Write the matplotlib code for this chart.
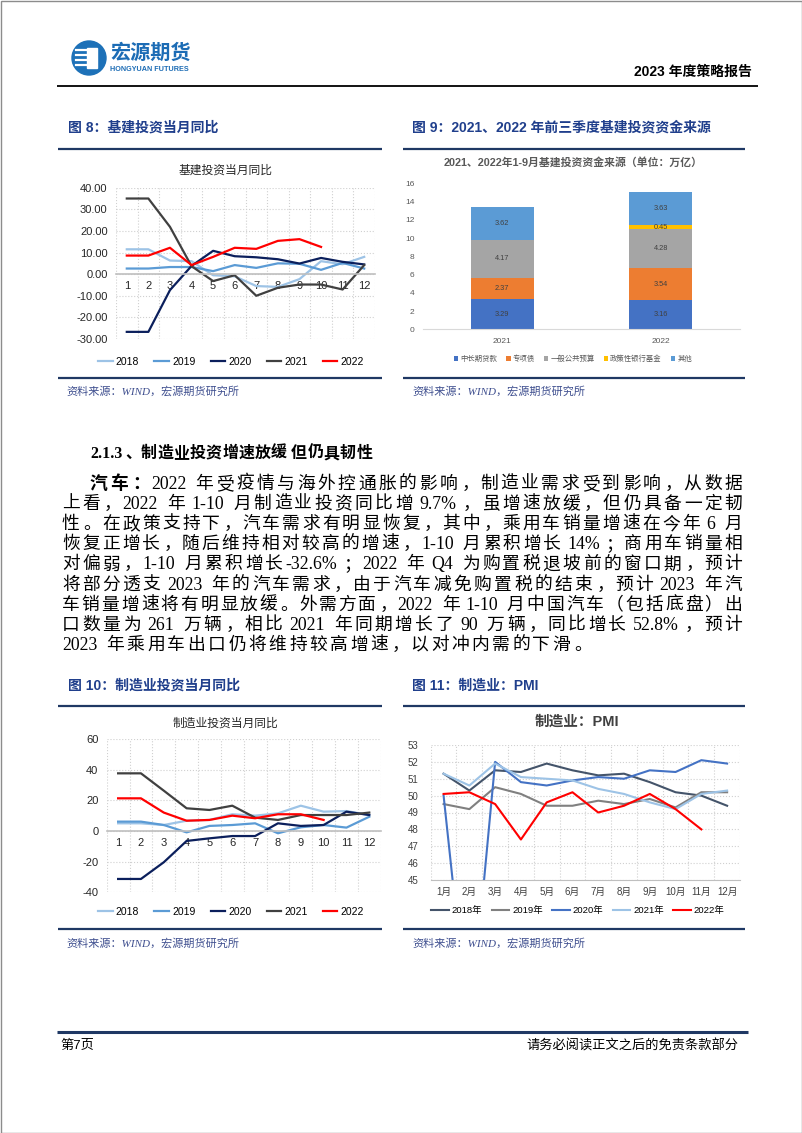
import re
import numpy as np
import matplotlib.pyplot as plt
from matplotlib.patches import Circle, Rectangle
from matplotlib.ticker import FormatStrFormatter

plt.rcParams['font.family'] = ['Liberation Sans', 'Noto Sans CJK SC']
CJK = ['Liberation Sans', 'Noto Sans CJK SC']
BODY = ['Liberation Serif', 'Noto Sans CJK SC']

# ---- data ----
months = np.arange(1, 13)
years = ['2018', '2019', '2020', '2021', '2022']

# fig 8: infrastructure investment, monthly yoy
infra_2018 = [11.5, 11.5, 6.3, 6.0, -0.5, -1.0, -5.5, -5.9, -2.3, 6.0, 4.6, 8.0]
infra_2019 = [2.6, 2.6, 3.3, 3.3, 1.4, 4.2, 2.9, 5.0, 4.8, 2.0, 5.2, 2.6]
infra_2020 = [-26.7, -26.7, -7.4, 3.8, 10.8, 8.3, 7.8, 6.9, 4.9, 7.5, 5.7, 4.5]
infra_2021 = [35.0, 35.0, 21.9, 3.7, -3.2, -0.5, -10.0, -6.3, -4.8, -4.8, -7.1, 4.2]
infra_2022 = [8.6, 8.6, 12.2, 4.2, 8.0, 12.2, 11.7, 15.4, 16.2, 12.6]

# fig 9: funding sources (trillion yuan)
src_years = ['2021', '2022']
src_names = ['中长期贷款', '专项债', '一般公共预算', '政策性银行基金', '其他']
loans = [3.29, 3.16]
special_bonds = [2.37, 3.54]
budget = [4.17, 4.28]
policy_fund = [0.0, 0.45]
others = [3.62, 3.63]

# fig 10: manufacturing investment, monthly yoy
manu_2018 = [5.0, 5.0, 3.9, 6.7, 7.2, 10.9, 10.0, 11.5, 16.5, 12.6, 13.0, 10.4]
manu_2019 = [6.1, 6.1, 3.9, -0.9, 3.3, 3.9, 5.0, -1.5, 2.4, 3.9, 2.2, 9.3]
manu_2020 = [-31.3, -31.3, -20.4, -6.5, -4.8, -3.3, -3.3, 5.0, 3.3, 3.9, 12.6, 10.4]
manu_2021 = [37.6, 37.6, 26.3, 14.8, 13.7, 16.5, 8.7, 7.2, 10.4, 10.4, 10.4, 12.0]
manu_2022 = [21.3, 21.3, 12.0, 6.7, 7.2, 10.0, 8.3, 10.9, 10.9, 7.2]

# fig 11: manufacturing PMI
pmi_2018 = [51.3, 50.3, 51.5, 51.4, 51.9, 51.5, 51.2, 51.3, 50.8, 50.2, 50.0, 49.4]
pmi_2019 = [49.5, 49.2, 50.5, 50.1, 49.4, 49.4, 49.7, 49.5, 49.8, 49.3, 50.2, 50.2]
pmi_2020 = [50.0, 35.7, 52.0, 50.8, 50.6, 50.9, 51.1, 51.0, 51.5, 51.4, 52.1, 51.9]
pmi_2021 = [51.3, 50.6, 51.9, 51.1, 51.0, 50.9, 50.4, 50.1, 49.6, 49.2, 50.1, 50.3]
pmi_2022 = [50.1, 50.2, 49.5, 47.4, 49.6, 50.2, 49.0, 49.4, 50.1, 49.2, 48.0]

body_lines = [
    '汽车：2022 年受疫情与海外控通胀的影响，制造业需求受到影响，从数据',
    '上看，2022 年 1-10 月制造业投资同比增 9.7%，虽增速放缓，但仍具备一定韧',
    '性。在政策支持下，汽车需求有明显恢复，其中，乘用车销量增速在今年 6 月',
    '恢复正增长，随后维持相对较高的增速，1-10 月累积增长 14%；商用车销量相',
    '对偏弱，1-10 月累积增长-32.6%；2022 年 Q4 为购置税退坡前的窗口期，预计',
    '将部分透支 2023 年的汽车需求，由于汽车减免购置税的结束，预计 2023 年汽',
    '车销量增速将有明显放缓。外需方面，2022 年 1-10 月中国汽车（包括底盘）出',
    '口数量为 261 万辆，相比 2021 年同期增长了 90 万辆，同比增长 52.8%，预计',
    '2023 年乘用车出口仍将维持较高增速，以对冲内需的下滑。',
]

W, H = 802, 1133
fig = plt.figure(figsize=(W / 100, H / 100), dpi=100)
page = fig.add_axes([0, 0, 1, 1])
page.set_xlim(0, W)
page.set_ylim(H, 0)
page.axis('off')
rend = fig.canvas.get_renderer()


def px_axes(l, t, r, b):
    return fig.add_axes([l / W, 1 - b / H, (r - l) / W, (b - t) / H])


def hline(x0, x1, y, color='#1F3864', lw=1.6):
    page.plot([x0, x1], [y, y], color=color, lw=lw, solid_capstyle='butt')


def body_line(s, x0, x1, y, size, bold_n=0, gap=None):
    em = size * 100 / 72
    items = []
    for sp, tok in re.findall(r'( ?)([A-Za-z0-9.%\-]+|\S)', s):
        wt = 'bold' if len(items) < bold_n else 'light'
        t = page.text(0, y + 0.38 * em, tok, fontsize=size, family=BODY,
                      fontweight=wt, ha='left', va='baseline', color='black')
        if tok.isascii():
            w = t.get_window_extent(rend).width + 0.12 * em
        else:
            w = em
        items.append((t, w, 0.25 * em if sp else 0))
    if gap is None:
        gap = (x1 - x0 - sum(w + sp for _, w, sp in items)) / (len(items) - 1)
    x = x0
    for t, w, sp in items:
        x += sp
        t.set_x(x + (0.08 * em if t.get_text() in '，；：。、' else 0))
        x += w + gap
    return gap


# ---- page frame, header, footer ----
page.add_patch(Rectangle((0.5, 0.5), W - 1, H - 1, fill=False, ec='#8C8C8C', lw=1))
page.add_patch(Circle((89, 58), 17, color='#1D71B8'))
for yy in [50, 55, 60, 65]:
    page.plot([76, 86], [yy, yy], color='white', lw=1.6)
page.add_patch(Rectangle((87, 48), 10, 20, color='white'))
page.text(110, 53, '宏源期货', fontsize=14.5, fontweight='bold', color='#1C6CB5',
          family=CJK, va='center', ha='left')
page.text(110, 69.5, 'HONGYUAN FUTURES', fontsize=5.2, fontweight='bold', color='#1C6CB5',
          va='center', ha='left')
page.text(752, 72, '2023 年度策略报告', fontsize=10, fontweight='bold', ha='right',
          va='center', family=CJK)
hline(57, 758, 86, color='black', lw=1.3)

hline(57, 748, 1032, lw=2.2)
page.text(60, 1046, '第7页', fontsize=9.5, ha='left', va='center', family=CJK)
page.text(738, 1046, '请务必阅读正文之后的免责条款部分', fontsize=9.5, ha='right',
          va='center', family=CJK)

# captions, rules and sources
cap = dict(fontsize=10, fontweight='bold', color='#203F8C', family=CJK, va='center', ha='left')
src = dict(fontsize=8, color='#3F4F8F', family=BODY, style='italic', va='center', ha='left')
page.text(68, 128, '图 8：基建投资当月同比', **cap)
page.text(412, 128, '图 9：2021、2022 年前三季度基建投资资金来源', **cap)
page.text(68, 686, '图 10：制造业投资当月同比', **cap)
page.text(412, 686, '图 11：制造业：PMI', **cap)
for y in [149, 378, 706, 929]:
    hline(58, 382, y)
    hline(403, 745, y)
for x, y in [(66, 391), (412, 391), (66, 943), (412, 943)]:
    page.text(x, y, '资料来源：WIND，宏源期货研究所', **src)

# ---- body text ----
body_line('2.1.3、制造业投资增速放缓 但仍具韧性', 90, 0, 452, 11.5, bold_n=99, gap=0.3)
g = 0
for i, s in enumerate(body_lines):
    y = 482 + i * 20.15
    if i == 0:
        g = body_line(s, 90, 742, y, 12.8, bold_n=3)
    elif i < len(body_lines) - 1:
        g = body_line(s, 62, 742, y, 12.8)
    else:
        body_line(s, 62, 742, y, 12.8, gap=g)

line_colors = ['#9DC3E6', '#5B9BD5', '#0B1F5C', '#404040', '#FF0000']


def yoy_chart(ax, series, ylim, step, fmt):
    for vals, c, lab in zip(series, line_colors, years):
        ax.plot(months[:len(vals)], vals, color=c, lw=1.6, label=lab)
    ax.set_xlim(0.5, 12.5)
    ax.set_ylim(*ylim)
    ax.set_yticks(np.arange(ylim[0], ylim[1] + 1, step))
    ax.yaxis.set_major_formatter(FormatStrFormatter(fmt))
    ax.set_xticks(months)
    ax.set_xticks(np.arange(0.5, 13, 1), minor=True)
    ax.grid(which='minor', axis='x', ls=':', color='#D0D0D0', lw=0.8)
    ax.grid(which='major', axis='y', ls=':', color='#D0D0D0', lw=0.8)
    for s in ['top', 'right', 'left']:
        ax.spines[s].set_visible(False)
    ax.spines['bottom'].set_position(('data', 0))
    ax.spines['bottom'].set_color('#BFBFBF')
    ax.spines['bottom'].set_linewidth(1.2)
    ax.tick_params(which='both', length=0, labelsize=8, colors='#262626')
    ax.tick_params(axis='x', pad=5)
    ax.tick_params(axis='y', pad=6)


# ---- fig 8 ----
ax8 = px_axes(116, 187.7, 375, 339)
yoy_chart(ax8, [infra_2018, infra_2019, infra_2020, infra_2021, infra_2022], (-30, 40), 10, '%.2f')
page.text(225.7, 170.5, '基建投资当月同比', fontsize=8.5, ha='center', va='center',
          color='#262626', family=CJK)
ax8.legend(loc='center', bbox_to_anchor=(231 / W, 1 - 362 / H), bbox_transform=fig.transFigure,
           ncol=5, frameon=False, fontsize=7.5, handlelength=1.4, handletextpad=0.3,
           columnspacing=1.45)

# ---- fig 10 ----
ax10 = px_axes(106.7, 739, 380.7, 892.3)
yoy_chart(ax10, [manu_2018, manu_2019, manu_2020, manu_2021, manu_2022], (-40, 60), 20, '%d')
page.text(225.7, 724, '制造业投资当月同比', fontsize=8.5, ha='center', va='center',
          color='#262626', family=CJK)
ax10.legend(loc='center', bbox_to_anchor=(231 / W, 1 - 912 / H), bbox_transform=fig.transFigure,
            ncol=5, frameon=False, fontsize=7.5, handlelength=1.4, handletextpad=0.3,
            columnspacing=1.45)

# ---- fig 9 ----
ax9 = px_axes(423, 183.3, 740, 329.3)
bar_colors = ['#4472C4', '#ED7D31', '#A5A5A5', '#FFC000', '#5B9BD5']
bottom = np.zeros(2)
for vals, c, lab in zip([loans, special_bonds, budget, policy_fund, others], bar_colors, src_names):
    bars = ax9.bar(src_years, vals, width=0.395, bottom=bottom, color=c, label=lab)
    for b, v in zip(bars, vals):
        if v > 0:
            ax9.text(b.get_x() + b.get_width() / 2, b.get_y() + v / 2, f'{v:.2f}',
                     ha='center', va='center', fontsize=5.3, color='#404040')
    bottom += np.array(vals)
ax9.set_xlim(-0.5, 1.5)
ax9.set_ylim(0, 16)
ax9.set_yticks(range(0, 17, 2))
for s in ['top', 'right', 'left']:
    ax9.spines[s].set_visible(False)
ax9.spines['bottom'].set_color('#D9D9D9')
ax9.tick_params(length=0, labelsize=6, colors='#595959')
ax9.tick_params(axis='y', pad=6)
ax9.tick_params(axis='x', pad=6)
page.text(573, 162.5, '2021、2022年1-9月基建投资资金来源（单位：万亿）', fontsize=7.8,
          fontweight='bold', color='#595959', ha='center', va='center', family=CJK)
ax9.legend(loc='center', bbox_to_anchor=(573 / W, 1 - 359.5 / H), bbox_transform=fig.transFigure,
           ncol=5, frameon=False, fontsize=5.3, handlelength=0.6, handleheight=0.6,
           handletextpad=0.3, columnspacing=1.2, labelcolor='#595959')

# ---- fig 11 ----
ax11 = px_axes(430.7, 745, 740, 880)
pmi_colors = ['#44546A', '#808080', '#4472C4', '#9DC3E6', '#FF0000']
for vals, c, lab in zip([pmi_2018, pmi_2019, pmi_2020, pmi_2021, pmi_2022], pmi_colors, years):
    ax11.plot(months[:len(vals)], vals, color=c, lw=1.5, label=lab + '年')
ax11.set_xlim(0.5, 12.5)
ax11.set_ylim(45, 53)
ax11.set_yticks(range(45, 54))
ax11.set_xticks(months, [f'{m}月' for m in months])
ax11.set_xticks(np.arange(0.5, 13, 1), minor=True)
ax11.grid(which='minor', axis='x', ls=':', color='#D0D0D0', lw=0.8)
ax11.grid(which='major', axis='y', ls=':', color='#D0D0D0', lw=0.8)
for s in ['top', 'right', 'left']:
    ax11.spines[s].set_visible(False)
ax11.spines['bottom'].set_color('#BFBFBF')
ax11.tick_params(which='both', length=0, labelsize=7, colors='#404040')
ax11.tick_params(axis='y', pad=9)
ax11.tick_params(axis='x', pad=5)
page.text(576.7, 722, '制造业：PMI', fontsize=10.5, fontweight='bold', color='#404040',
          ha='center', va='center', family=CJK)
ax11.legend(loc='center', bbox_to_anchor=(578 / W, 1 - 911 / H), bbox_transform=fig.transFigure,
            ncol=5, frameon=False, fontsize=6.8, handlelength=1.85, handletextpad=0.3,
            columnspacing=1.0)

fig.savefig('out.png', dpi=100)
